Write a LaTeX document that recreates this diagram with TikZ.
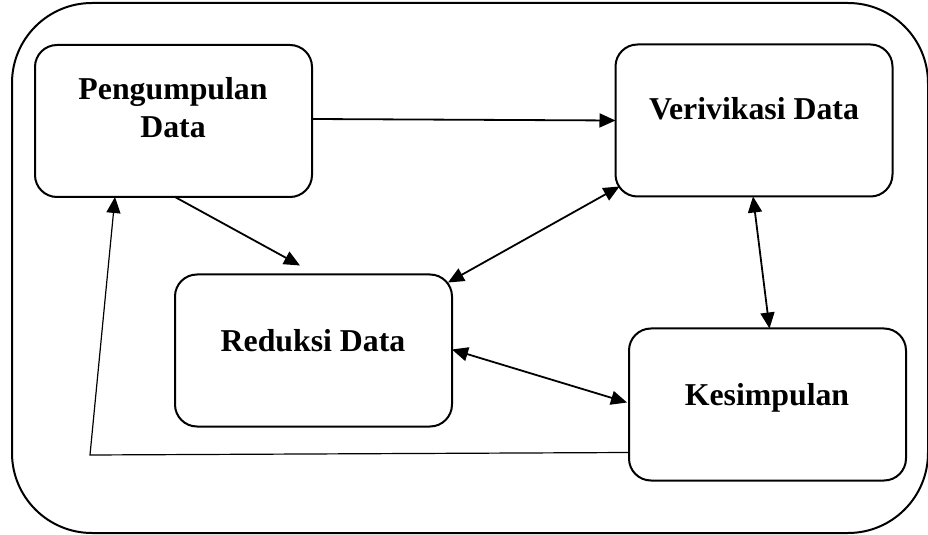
\documentclass[tikz,border=0pt]{standalone}
\usepackage{fontspec}
\setmainfont{Liberation Serif}
\usetikzlibrary{arrows.meta}
\begin{document}
\begin{tikzpicture}[x=0.5pt,y=-0.5pt,
  box/.style={draw,line width=1pt,rounded corners=11pt,minimum width=138.5pt,minimum height=76pt,inner sep=0pt,outer sep=0pt},
  lbl/.style={font=\fontsize{15.9}{19}\selectfont\bfseries,align=center,inner sep=0pt},
  arr/.style={line width=0.9pt,-{Triangle[length=8pt,width=7pt]}},
  darr/.style={line width=0.9pt,{Triangle[length=8pt,width=7pt]}-{Triangle[length=8pt,width=7pt]}},
  thin/.style={line width=0.6pt}]
\useasboundingbox (0,0) rectangle (928,535);
\draw[line width=1pt,rounded corners=40pt] (12,3) rectangle (928,533);
\node[box] (p) at (173.5,121) {};
\node[box] (v) at (754,120.5) {};
\node[box] (r) at (313.5,350.5) {};
\node[box] (k) at (767.5,404.5) {};
\node[lbl] (pt) at (173,108) {Pengumpulan\\Data};
\node[lbl,anchor=base] (vt) at (754,120) {Verivikasi Data};
\node[lbl,anchor=base] (rt) at (313,351) {Reduksi Data};
\node[lbl,anchor=base] (kt) at (767,405) {Kesimpulan};
% connectors
\draw[arr] ([yshift=1pt]p.east) -- ([yshift=0pt]v.west);
\draw[arr] ([xshift=70pt]p.south west) -- ([xshift=62.5pt,yshift=4.5pt]r.north west);
\draw[darr] ([xshift=-2pt,yshift=-4pt]r.north east) -- ([xshift=2pt,yshift=5pt]v.south west);
\draw[darr] ([yshift=0.5pt]r.east) -- ([xshift=-1pt,yshift=1pt]k.west);
\draw[darr] ([xshift=-0.5pt]v.south) -- ([xshift=1pt]k.north);
\coordinate (c1) at (90,455);
\draw[thin,-{Triangle[length=8pt,width=7pt]}] ([yshift=-24pt]k.west) -- (c1 |- 0,455) -- ([xshift=40pt]p.south west);
\end{tikzpicture}
\end{document}
